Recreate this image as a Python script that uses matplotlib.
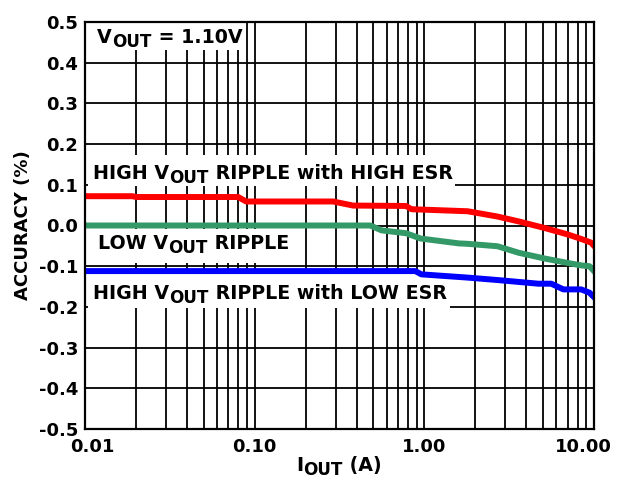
import numpy as np
import matplotlib
matplotlib.use("Agg")
import matplotlib.pyplot as plt
import matplotlib.transforms as mtransforms

plt.rcParams['font.family'] = 'DejaVu Sans'
plt.rcParams['font.weight'] = 'bold'

# accuracy vs load current, three output-ripple conditions
iout_high_esr = [0.01, 0.019, 0.02, 0.08, 0.089, 0.29, 0.38, 0.78, 0.84, 1.8, 2.7, 3.6, 5.1, 7.0, 8.4, 9.6, 10.0]
acc_high_esr = [0.072, 0.072, 0.070, 0.070, 0.059, 0.059, 0.049, 0.048, 0.040, 0.035, 0.022, 0.010, -0.006, -0.022, -0.033, -0.042, -0.050]

iout_low_ripple = [0.01, 0.48, 0.56, 0.78, 0.95, 1.6, 1.8, 2.7, 3.6, 5.1, 7.0, 8.4, 9.4, 10.0]
acc_low_ripple = [0.0, 0.0, -0.012, -0.019, -0.032, -0.044, -0.045, -0.051, -0.067, -0.081, -0.092, -0.098, -0.100, -0.112]

iout_low_esr = [0.01, 0.885, 0.96, 1.8, 2.7, 4.7, 5.6, 6.6, 8.4, 9.4, 10.0]
acc_low_esr = [-0.112, -0.112, -0.120, -0.128, -0.134, -0.143, -0.143, -0.157, -0.157, -0.165, -0.176]

xticks = [0.01, 0.1, 1.0, 10.0]
xtick_labels = ['0.01', '0.10', '1.00', '10.00']
yticks = [0.5, 0.4, 0.3, 0.2, 0.1, 0.0, -0.1, -0.2, -0.3, -0.4, -0.5]
ytick_labels = ['0.5', '0.4', '0.3', '0.2', '0.1', '0.0', '-0.1', '-0.2', '-0.3', '-0.4', '-0.5']

fig = plt.figure(figsize=(6.24, 4.83), dpi=100)
ax = fig.add_axes([85/624, 1-429/483, (594-85)/624, (429-22)/483])

ax.set_xscale('log')
ax.set_xlim(0.01, 10)
ax.set_ylim(-0.5, 0.5)

ax.set_xticks(xticks)
ax.set_xticklabels(xtick_labels)
ax.set_xticks([m*d for d in [0.01, 0.1, 1.0] for m in range(2, 10)], minor=True)
ax.xaxis.set_minor_formatter(plt.NullFormatter())
ax.set_yticks(yticks)
ax.set_yticklabels(ytick_labels)
ax.tick_params(which='both', length=0, labelsize=13)
ax.tick_params(axis='x', pad=6.5)
ax.tick_params(axis='y', pad=5)

ax.set_axisbelow(True)
ax.grid(which='both', color='black', lw=1.3)
for s in ax.spines.values():
    s.set_linewidth(1.6)
    s.set_zorder(6)

# nudge the end tick labels inward
lbls = ax.get_xticklabels()
lbls[0].set_transform(lbls[0].get_transform() + mtransforms.ScaledTranslation(7/100, 0, fig.dpi_scale_trans))
lbls[-1].set_transform(lbls[-1].get_transform() + mtransforms.ScaledTranslation(-11/100, 0, fig.dpi_scale_trans))

# white patches behind the annotations
def white_box(x0, x1, y0, y1):
    ax.fill_between([x0, x1], y0, y1, color='white', lw=0, zorder=2)

white_box(0.0102, 0.0853, 0.432, 0.497)
white_box(0.0104, 1.51, 0.097, 0.173)
white_box(0.0104, 0.173, -0.093, -0.009)
white_box(0.0104, 1.42, -0.203, -0.117)

ax.plot(iout_high_esr, acc_high_esr, color='#ff0000', lw=4.3, zorder=4, solid_joinstyle='round')
ax.plot(iout_low_ripple, acc_low_ripple, color='#339966', lw=4.3, zorder=4, solid_joinstyle='round')
ax.plot(iout_low_esr, acc_low_esr, color='#0000ff', lw=4.3, zorder=4, solid_joinstyle='round')

def sub_text(x, y, pre, sub, post, size=13.7, transform=None):
    if transform is None:
        transform = ax.transData
    t1 = ax.text(x, y, pre, fontsize=size, fontweight='bold', va='baseline',
                 transform=transform, zorder=5)
    t2 = ax.annotate(sub, xy=(1, 0), xycoords=t1, xytext=(0.3, -3),
                     textcoords='offset points', fontsize=size*0.88,
                     fontweight='bold', va='bottom', zorder=5)
    ax.annotate(post, xy=(1, 0), xycoords=(t2, t1), fontsize=size,
                fontweight='bold', va='bottom', zorder=5)

sub_text(0.0118, 0.448, 'V', 'OUT', ' = 1.10V')
sub_text(0.0111, 0.1135, 'HIGH V', 'OUT', ' RIPPLE with HIGH ESR')
sub_text(0.0119, -0.0585, 'LOW V', 'OUT', ' RIPPLE')
sub_text(0.0111, -0.1813, 'HIGH V', 'OUT', ' RIPPLE with LOW ESR')

# axis titles
sub_text(296/624, 1-471/483, 'I', 'OUT', ' (A)', transform=fig.transFigure)
fig.text(23/624, 1-225/483, 'ACCURACY (%)', rotation=90, fontsize=13,
         fontweight='bold', ha='center', va='center')

fig.savefig('out.png', dpi=100)
